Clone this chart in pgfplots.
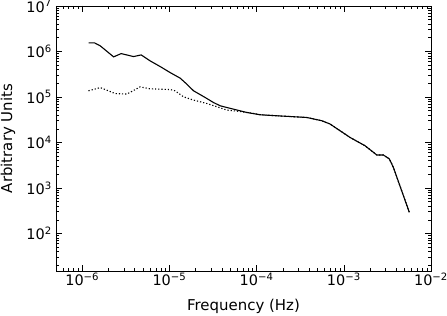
\documentclass[border=0pt]{standalone}
\usepackage{fontspec}
\setmainfont{DejaVu Sans}
\usepackage{pgfplots}
\pgfplotsset{compat=1.18}
\begin{document}
\begin{tikzpicture}
\begin{axis}[
  scale only axis,
  width=375bp, height=265bp,
  xmode=log, ymode=log,
  log basis x=10, log basis y=10,
  xmin=5e-7, xmax=1e-2,
  ymin=15, ymax=1e7,
  axis line style={line width=0.8pt},
  tick style={black, line width=0.6pt},
  major tick length=6.5bp,
  minor tick length=3.5bp,
  tick align=inside,
  xticklabel={\pgfmathtruncatemacro\e{round(\tick)}10\textsuperscript{\ifnum\e<0 −\the\numexpr-\e\relax\else\e\fi}},
  yticklabel={\pgfmathtruncatemacro\e{round(\tick)}10\textsuperscript{\ifnum\e<0 −\the\numexpr-\e\relax\else\e\fi}},
  tick label style={font=\fontsize{14.5}{16}\selectfont},
  xticklabel style={anchor=north, inner sep=0pt, yshift=-2bp},
  yticklabel style={anchor=east, inner sep=0pt, xshift=-4bp},
  label style={font=\fontsize{15}{17}\selectfont},
  xlabel={Frequency (Hz)},
  ylabel={Arbitrary Units},
  xlabel style={at={(axis description cs:0.5,0)}, anchor=center, yshift=-35bp},
  ylabel style={at={(axis description cs:-0.128,0.5)}, anchor=center},
]
\addplot[black, line width=1.1pt, dash pattern=on 1.2pt off 2pt] coordinates {
(1.18e-6,1.37e5)
(1.61e-6,1.61e5)
(2.39e-6,1.19e5)
(3.25e-6,1.16e5)
(4.62e-6,1.67e5)
(6.01e-6,1.51e5)
(1.02e-5,1.46e5)
(1.16e-5,1.37e5)
(1.45e-5,1.01e5)
(1.89e-5,8.55e4)
(2.69e-5,7.2e4)
(3.50e-5,6.1e4)
(4.55e-5,5.16e4)
(6.47e-5,4.8e4)
(9.19e-5,4.35e4)
(1.10e-4,4.07e4)
(1.70e-4,3.87e4)
(3.76e-4,3.55e4)
(5.58e-4,3.01e4)
(6.95e-4,2.55e4)
(1.18e-3,1.29e4)
(1.75e-3,8.5e3)
(2.39e-3,5.32e3)
(2.84e-3,5.32e3)
(3.33e-3,4.35e3)
(3.70e-3,2.85e3)
(5.64e-3,2.93e2)
};
\addplot[black, line width=1.1pt] coordinates {
(1.18e-6,1.55e6)
(1.38e-6,1.55e6)
(1.61e-6,1.33e6)
(2.29e-6,7.62e5)
(2.80e-6,9.0e5)
(3.87e-6,7.73e5)
(4.74e-6,8.41e5)
(6.01e-6,6.22e5)
(7.83e-6,4.67e5)
(1.02e-5,3.44e5)
(1.33e-5,2.59e5)
(1.58e-5,1.92e5)
(1.89e-5,1.37e5)
(2.57e-5,9.75e4)
(3.20e-5,7.57e4)
(3.82e-5,6.41e4)
(5.38e-5,5.43e4)
(7.73e-5,4.57e4)
(1.10e-4,4.07e4)
(1.70e-4,3.87e4)
(3.76e-4,3.55e4)
(5.58e-4,3.01e4)
(6.95e-4,2.55e4)
(1.18e-3,1.29e4)
(1.75e-3,8.5e3)
(2.39e-3,5.32e3)
(2.84e-3,5.32e3)
(3.33e-3,4.35e3)
(3.70e-3,2.85e3)
(5.64e-3,2.93e2)
};
\end{axis}
\pgfresetboundingbox
\path (current axis.south west) ++(-56bp,-45bp) coordinate (bl);
\path (current axis.north east) ++(16bp,6bp) coordinate (tr);
\path[use as bounding box] (bl) rectangle (tr);
\end{tikzpicture}
\end{document}
